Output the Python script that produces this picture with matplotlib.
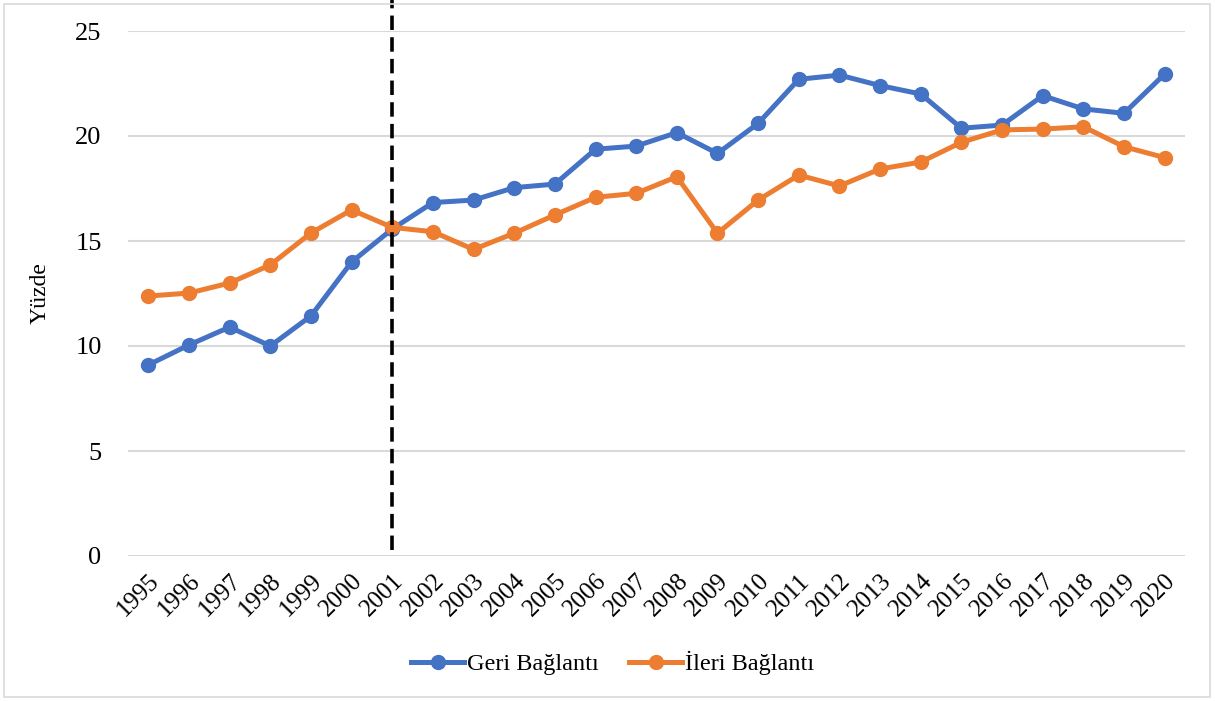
import matplotlib
matplotlib.use("Agg")
import matplotlib.pyplot as plt
from matplotlib.patches import Rectangle

years = [str(y) for y in range(1995, 2021)]

geri = [9.1, 10.05, 10.9, 10.0, 11.43, 14.0, 15.57, 16.83, 16.95, 17.54,
        17.71, 19.37, 19.52, 20.16, 19.17, 20.6, 22.7, 22.9, 22.4, 22.0,
        20.37, 20.52, 21.92, 21.29, 21.08, 22.95]
ileri = [12.38, 12.52, 13.0, 13.86, 15.38, 16.48, 15.65, 15.44, 14.6, 15.37,
         16.24, 17.08, 17.27, 18.06, 15.37, 16.95, 18.14, 17.62, 18.43, 18.76,
         19.7, 20.29, 20.33, 20.44, 19.49, 18.97]

break_year = "2001"

plt.rcParams["font.family"] = ["Liberation Serif", "DejaVu Serif"]

fig = plt.figure(figsize=(12.15, 7.01), dpi=100)
ax = fig.add_axes([128 / 1215, 145 / 701, 1057 / 1215, 525 / 701])

x = list(range(len(years)))

ax.plot(x, geri, color="#4472C4", linewidth=3.6, marker="o", markersize=10,
        label="Geri Bağlantı", zorder=3)
ax.plot(x, ileri, color="#ED7D31", linewidth=3.6, marker="o", markersize=10,
        label="İleri Bağlantı", zorder=3)

# structural break line
bx = years.index(break_year)
ax.plot([bx, bx], [0.3, 26.5], color="black", linewidth=2.6,
        linestyle=(0, (4, 2)), clip_on=False, zorder=4)

ax.set_xlim(-0.5, len(years) - 0.5)
ax.set_ylim(0, 25)
ax.set_yticks([0, 5, 10, 15, 20, 25])
ax.set_xticks(x)
ax.set_xticklabels(years, rotation=45, ha="right", rotation_mode="anchor")
ax.tick_params(axis="x", length=0, labelsize=18, pad=10)
ax.tick_params(axis="y", length=0, labelsize=19, pad=19)

ax.grid(axis="y", color="#d9d9d9", linewidth=1.5)
ax.set_axisbelow(True)
for s in ax.spines.values():
    s.set_visible(False)

ax.set_ylabel("Yüzde", fontsize=17, labelpad=18)

fig.legend(loc="center", bbox_to_anchor=(0.504, 1 - 663 / 701), ncol=2,
           frameon=False, fontsize=17.5, handlelength=2.2, columnspacing=1.25,
           handletextpad=0.1)

fig.add_artist(Rectangle((4 / 1215, 4 / 701), 1206 / 1215, 693 / 701,
                         transform=fig.transFigure, fill=False,
                         edgecolor="#d9d9d9", linewidth=1.2))

fig.savefig("out.png", dpi=100)
